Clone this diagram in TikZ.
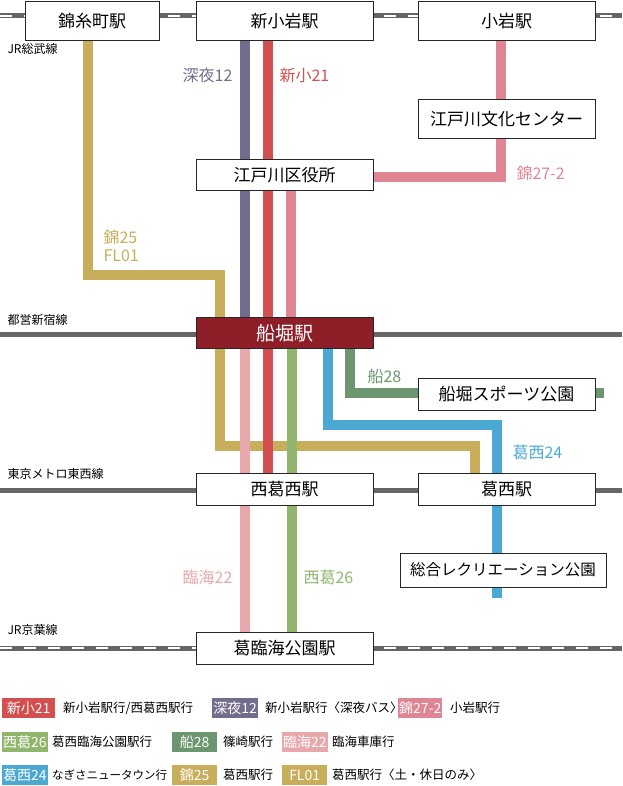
\documentclass[tikz,border=0pt]{standalone}
\usepackage{fontspec}
\setmainfont{Noto Sans CJK JP}
\definecolor{cRed}{HTML}{D45050}
\definecolor{cPur}{HTML}{736C8C}
\definecolor{cPk}{HTML}{E08594}
\definecolor{cGold}{HTML}{C8AE5A}
\definecolor{cLpk}{HTML}{E8A7AA}
\definecolor{cGrn}{HTML}{90B56C}
\definecolor{cDg}{HTML}{6C9670}
\definecolor{cBlu}{HTML}{4AA8D2}
\definecolor{cSt}{HTML}{8E1F28}
\definecolor{cRail}{HTML}{666666}
\begin{document}
\begin{tikzpicture}[x=1pt,y=-1pt,
 stn/.style={draw=black!85,line width=1pt,fill=white,minimum height=#1,inner sep=0pt,font=\fontsize{17}{17}\selectfont},
 bus/.style={line width=10pt,draw=#1},
 lbl/.style={font=\fontsize{16}{16}\selectfont,text=#1},
 rl/.style={font=\fontsize{12}{12}\selectfont},
 tag/.style={fill=#1,text=white,font=\fontsize{14}{14}\selectfont,minimum height=20pt,inner xsep=1pt,anchor=west},
 desc/.style={font=\fontsize{12.5}{12.5}\selectfont,anchor=west,inner xsep=0pt},
 rail/.style={line width=5pt,draw=cRail},
 raild/.style={line width=2.5pt,draw=white,dash pattern=on 12pt off 12pt}]
\useasboundingbox (0,0) rectangle (622,786);
% rails
\draw[rail] (0,16) -- (622,16); \draw[raild] (0,16) -- (622,16);
\draw[rail] (0,334) -- (622,334);
\draw[rail] (0,490) -- (622,490);
\draw[rail] (0,648) -- (622,648); \draw[raild] (0,648) -- (622,648);
\node[rl,anchor=west] (r1) at (4,49) {JR総武線};
\node[rl,anchor=west] (r2) at (4,320) {都営新宿線};
\node[rl,anchor=west] (r3) at (4,474) {東京メトロ東西線};
\node[rl,anchor=west] (r4) at (4,630) {JR京葉線};
% bus lines
\draw[bus=cGold] (88,41) -- (88,275) -- (220,275) -- (220,446) -- (475,446) -- (475,473);
\draw[bus=cPur] (245,41) -- (245,318);
\draw[bus=cRed] (268,41) -- (268,473);
\draw[bus=cPk] (501,41) -- (501,177) -- (373,177);
\draw[bus=cPk] (291,191) -- (291,318);
\draw[bus=cLpk] (245,348) -- (245,632);
\draw[bus=cGrn] (292,348) -- (292,632);
\draw[bus=cBlu] (328,348) -- (328,425) -- (497,425) -- (497,598);
\draw[bus=cDg] (350,348) -- (350,393) -- (604,393);
% stations
\node[stn=39pt,minimum width=134pt] (kin) at (92,21.5) {錦糸町駅};
\node[stn=39pt,minimum width=177pt] (shk) at (284.5,21.5) {新小岩駅};
\node[stn=39pt,minimum width=177pt] (koi) at (506.5,21.5) {小岩駅};
\node[stn=39pt,minimum width=177pt] (bun) at (506.5,119.5) {江戸川文化センター};
\node[stn=31pt,minimum width=177pt] (ku) at (284.5,175.5) {江戸川区役所};
\node[stn=31pt,minimum width=177pt,fill=cSt,text=white,font=\fontsize{19}{19}\selectfont] (fun) at (284.5,333) {船堀駅};
\node[stn=32pt,minimum width=177pt] (spo) at (506.5,394) {船堀スポーツ公園};
\node[stn=32pt,minimum width=177pt] (nis) at (284.5,489) {西葛西駅};
\node[stn=32pt,minimum width=177pt] (kas) at (506.5,489) {葛西駅};
\node[stn=34pt,minimum width=206pt,font=\fontsize{15.5}{15.5}\selectfont] (sog) at (503,570) {総合レクリエーション公園};
\node[stn=32pt,minimum width=177pt] (rin) at (284.5,648) {葛臨海公園駅};
% labels
\node[lbl=cPur,anchor=east] (l1) at (236,75) {深夜12};
\node[lbl=cRed,anchor=west] (l2) at (276,75) {新小21};
\node[lbl=cPk,anchor=west] (l3) at (513,173) {錦27-2};
\node[lbl=cGold,align=left,anchor=west] (l4) at (100,246) {錦25\\[2pt]FL01};
\node[lbl=cDg,anchor=west] (l5) at (364,376) {船28};
\node[lbl=cBlu,anchor=west] (l6) at (509,452) {葛西24};
\node[lbl=cLpk,anchor=east] (l7) at (236,577) {臨海22};
\node[lbl=cGrn,anchor=west] (l8) at (300,577) {西葛26};
% legend
\node[tag=cRed,minimum width=53pt] (t1) at (2,708) {新小21}; \node[desc] (d1) at (63,708) {新小岩駅行/西葛西駅行};
\node[tag=cPur,minimum width=46pt] (t2) at (212,708) {深夜12}; \node[desc] (d2) at (265,708) {新小岩駅行〈深夜バス〉};
\node[tag=cPk,minimum width=44pt] (t3) at (398,708) {錦27-2}; \node[desc] (d3) at (450,708) {小岩駅行};
\node[tag=cGrn,minimum width=44pt] (t4) at (2,742) {西葛26}; \node[desc] (d4) at (52,742) {葛西臨海公園駅行};
\node[tag=cDg,minimum width=45pt] (t5) at (172,742) {船28}; \node[desc] (d5) at (223,742) {篠崎駅行};
\node[tag=cLpk,minimum width=44pt] (t6) at (282,742) {臨海22}; \node[desc] (d6) at (332,742) {臨海車庫行};
\node[tag=cBlu,minimum width=44pt] (t7) at (2,775) {葛西24}; \node[desc,font=\fontsize{11.5}{11.5}\selectfont] (d7) at (52,775) {なぎさニュータウン行};
\node[tag=cGold,minimum width=45pt] (t8) at (172,775) {錦25}; \node[desc] (d8) at (223,775) {葛西駅行};
\node[tag=cGold,minimum width=45pt] (t9) at (282,775) {FL01}; \node[desc] (d9) at (332,775) {葛西駅行〈土・休日のみ〉};
\end{tikzpicture}
\end{document}
